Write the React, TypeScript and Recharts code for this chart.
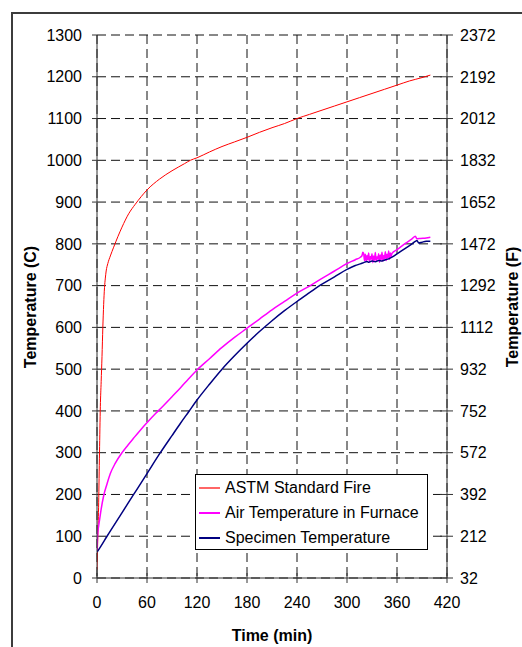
import React from "react";
import {
  LineChart,
  Line,
  XAxis,
  YAxis,
  CartesianGrid,
  Legend,
} from "recharts";

const FONT = '"Liberation Sans", Arial, sans-serif';

// ASTM standard fire curve (min, C)
const ASTM_TIME = [0, 1, 2, 3, 4, 5, 6, 7, 8, 9, 10, 11, 13, 16, 20, 25, 30, 38, 46, 53, 60, 75, 90, 105, 112, 120, 135, 150, 165, 180, 195, 210, 225, 240, 255, 270, 285, 300, 315, 330, 345, 360, 375, 390, 400];
const ASTM_TEMP = [20, 100, 180, 300, 410, 470, 530, 600, 655, 695, 718, 735, 753, 771, 792, 817, 840, 872, 895, 913, 929, 955, 975, 992, 1000, 1006, 1020, 1033, 1044, 1055, 1067, 1078, 1088, 1100, 1110, 1120, 1130, 1140, 1150, 1160, 1170, 1180, 1190, 1198, 1204];

// air temperature in furnace
const AIR_TIME = [0, 0.5, 1, 2, 3, 5, 8, 12, 16, 22, 30, 37, 44, 52, 61, 70, 77, 90, 100, 110, 120, 135, 150, 165, 180, 195, 210, 225, 240, 255, 268, 285, 300, 310, 316, 318, 319, 320, 321, 322, 323, 324, 325, 326, 327, 328, 329, 330, 331, 332, 333, 334, 335, 336, 337, 338, 339, 340, 341, 342, 343, 344, 345, 346, 347, 348, 349, 350, 351, 352, 353, 354, 360, 370, 378, 382, 384, 388, 395, 400];
const AIR_TEMP = [62, 95, 110, 125, 138, 165, 197, 225, 250, 275, 300, 318, 335, 354, 374, 393, 407, 434, 455, 477, 498, 525, 552, 576, 598, 620, 642, 662, 682, 699, 715, 735, 753, 762, 768, 772, 780, 777, 760, 775, 758, 772, 762, 778, 757, 770, 763, 776, 755, 771, 761, 779, 758, 769, 764, 776, 756, 773, 762, 780, 759, 772, 765, 781, 760, 775, 766, 783, 763, 778, 770, 777, 786, 801, 812, 818, 812, 813, 814, 816];

// specimen temperature
const SPEC_TIME = [0, 4, 12, 28, 44, 60, 76, 90, 100, 110, 120, 135, 150, 165, 180, 195, 210, 225, 240, 255, 268, 285, 300, 310, 316, 320, 324, 326, 330, 334, 338, 342, 346, 350, 354, 360, 370, 378, 382, 384, 386, 390, 395, 400];
const SPEC_TEMP = [62, 74, 100, 150, 200, 250, 300, 341, 370, 398, 426, 464, 500, 532, 562, 590, 616, 640, 662, 683, 701, 721, 739, 748, 752, 755, 758, 756, 759, 757, 760, 759, 762, 764, 768, 776, 789, 800, 806, 808, 802, 804, 806, 806];

const X_TICKS = [0, 60, 120, 180, 240, 300, 360, 420];
const C_TICKS = [0, 100, 200, 300, 400, 500, 600, 700, 800, 900, 1000, 1100, 1200, 1300];
const F_TICKS = [32, 212, 392, 572, 752, 932, 1112, 1292, 1472, 1652, 1832, 2012, 2192, 2372];

const SERIES = [
  { name: "ASTM Standard Fire", color: "#ff0000", width: 1, time: ASTM_TIME, temp: ASTM_TEMP },
  { name: "Air Temperature in Furnace", color: "#ff00ff", width: 1.5, time: AIR_TIME, temp: AIR_TEMP },
  { name: "Specimen Temperature", color: "#000080", width: 1.5, time: SPEC_TIME, temp: SPEC_TEMP },
];

const AXIS_COLOR = "#333";

function RightTick({ x, y, payload }: any) {
  return (
    <g>
      <line x1={x - 20} x2={x - 7} y1={y} y2={y} stroke={AXIS_COLOR} />
      <text x={x} y={y} dy="0.36em" textAnchor="start" fontSize={16} fill="#000" fontFamily={FONT}>
        {payload.value}
      </text>
    </g>
  );
}

function BottomTick({ x, y, payload }: any) {
  return (
    <g>
      <line x1={x} x2={x} y1={y - 24} y2={y - 14} stroke={AXIS_COLOR} />
      <text x={x} y={y} dy="0.71em" textAnchor="middle" fontSize={16} fill="#000" fontFamily={FONT}>
        {payload.value}
      </text>
    </g>
  );
}

// legend rows come from SERIES so the colours are always right
function LegendBox() {
  return (
    <div
      style={{
        width: 233,
        height: 76,
        boxSizing: "border-box",
        border: "1px solid #000",
        background: "#fff",
        fontFamily: FONT,
        fontSize: 16,
        color: "#000",
      }}
    >
      {SERIES.map((s) => (
        <div key={s.name} style={{ height: 25, display: "flex", alignItems: "center" }}>
          <svg width={21} height={4} style={{ marginLeft: 3, marginRight: 5 }}>
            <line x1={0} x2={21} y1={2} y2={2} stroke={s.color} strokeWidth={s.width > 1 ? 2 : 1.2} />
          </svg>
          <span style={{ whiteSpace: "nowrap" }}>{s.name}</span>
        </div>
      ))}
    </div>
  );
}

const titleStyle: React.CSSProperties = {
  position: "absolute",
  fontFamily: FONT,
  fontWeight: "bold",
  fontSize: 16,
  whiteSpace: "nowrap",
  color: "#000",
};

export default function App() {
  return (
    <div
      style={{
        position: "absolute",
        left: 0,
        top: 0,
        width: 522,
        height: 647,
        background: "#fff",
        overflow: "hidden",
      }}
    >
      <div
        style={{
          position: "absolute",
          left: 11,
          top: 12,
          width: 700,
          height: 800,
          border: "2px solid #3c3c3c",
        }}
      />
      <LineChart
        width={522}
        height={647}
        margin={{ top: 35, right: 0, bottom: 0, left: 0 }}
        style={{ position: "absolute", left: 0, top: 0 }}
      >
        <CartesianGrid stroke="#111" strokeDasharray="9 5" />
        <XAxis
          dataKey="t"
          type="number"
          domain={[0, 420]}
          ticks={X_TICKS}
          allowDataOverflow
          height={69}
          stroke={AXIS_COLOR}
          tickLine={false}
          tickSize={0}
          tickMargin={19}
          tick={<BottomTick />}
        />
        <YAxis
          type="number"
          domain={[0, 1300]}
          ticks={C_TICKS}
          allowDataOverflow
          width={97}
          stroke={AXIS_COLOR}
          tickSize={5}
          tickMargin={10}
          tick={{ fontSize: 16, fill: "#000", fontFamily: FONT }}
        />
        <YAxis
          yAxisId="right"
          orientation="right"
          type="number"
          domain={[32, 2372]}
          ticks={F_TICKS}
          allowDataOverflow
          width={75}
          stroke={AXIS_COLOR}
          tickLine={false}
          tickSize={0}
          tickMargin={13}
          tick={<RightTick />}
        />
        <Legend
          layout="vertical"
          align="center"
          verticalAlign="middle"
          wrapperStyle={{ left: 195, top: 474, width: 233 }}
          content={<LegendBox />}
        />
        {SERIES.map((s) => (
          <Line
            key={s.name}
            name={s.name}
            type="monotone"
            data={s.time.map((t, i) => ({ t, v: s.temp[i] }))}
            dataKey="v"
            stroke={s.color}
            strokeWidth={s.width}
            dot={false}
            activeDot={false}
            isAnimationActive={false}
          />
        ))}
      </LineChart>
      <div style={{ ...titleStyle, left: 31, top: 307, transform: "translate(-50%, -50%) rotate(-90deg)" }}>
        Temperature (C)
      </div>
      <div style={{ ...titleStyle, left: 513, top: 307, transform: "translate(-50%, -50%) rotate(-90deg)" }}>
        Temperature (F)
      </div>
      <div style={{ ...titleStyle, left: 272, top: 636, transform: "translate(-50%, -50%)" }}>
        Time (min)
      </div>
    </div>
  );
}
